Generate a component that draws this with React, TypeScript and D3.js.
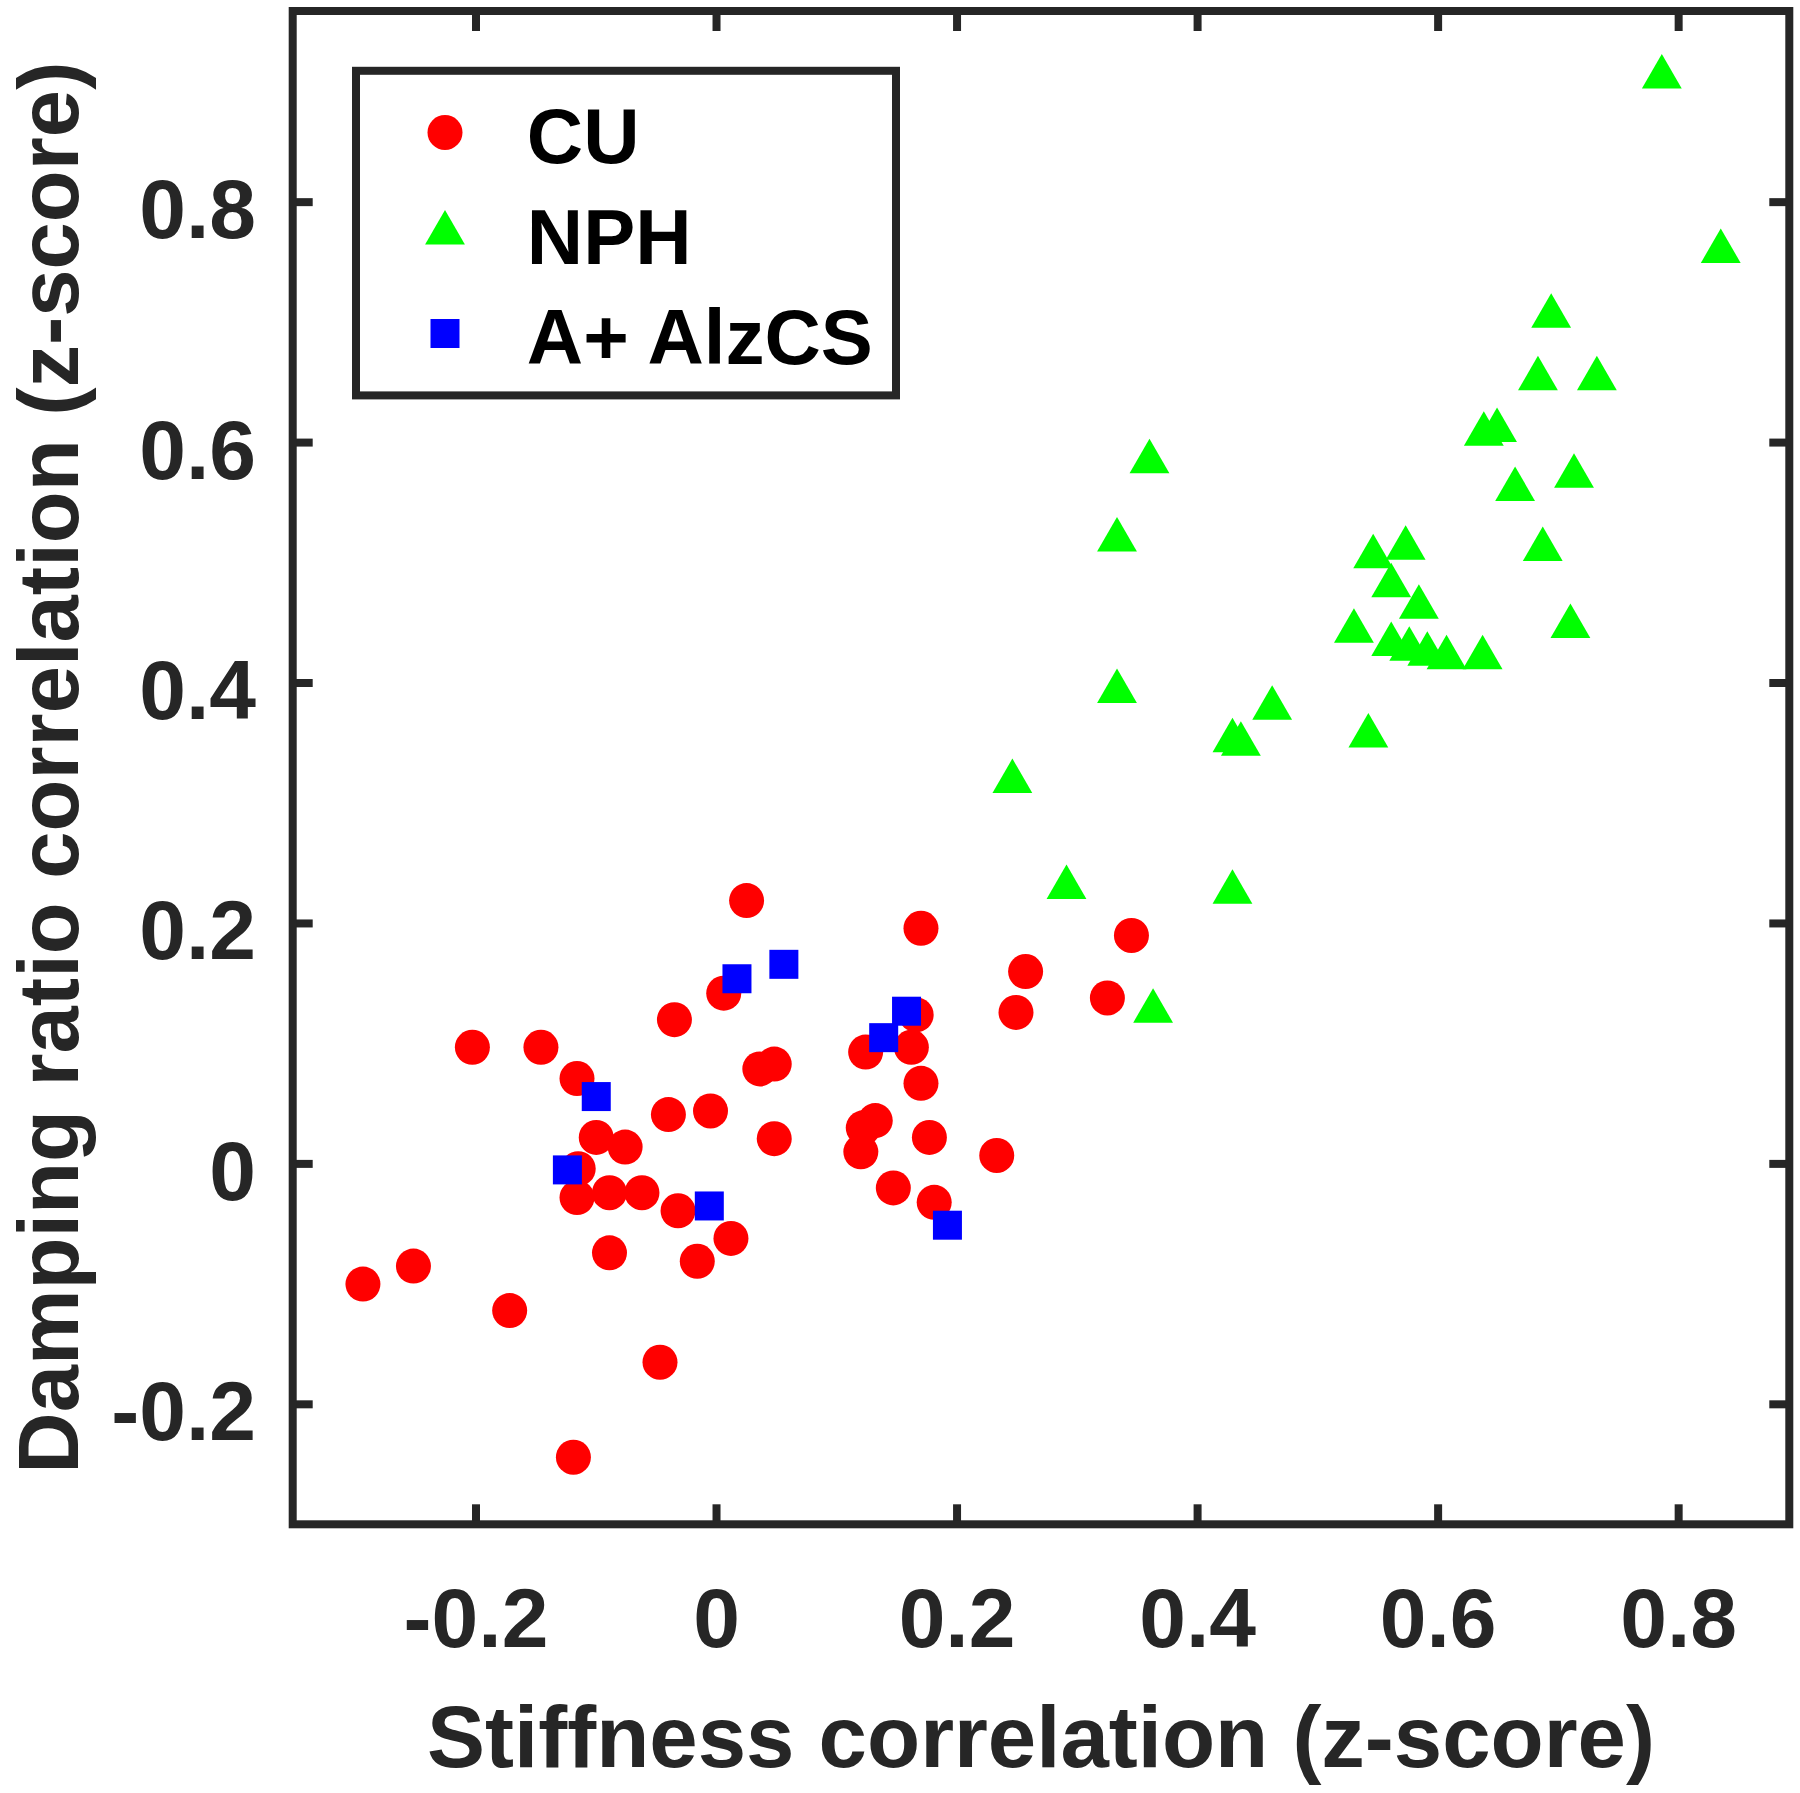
import React from 'react';
import * as d3 from 'd3';

// CU (red circles)
const cuX = [0.025, 0.170, 0.006, -0.035, -0.203, -0.146, -0.116, 0.036, 0.048, 0.124, 0.162, 0.166, 0.170, -0.040, -0.005, -0.100, -0.076, 0.048, 0.122, 0.132, 0.120, 0.177, 0.233, -0.115, -0.116, -0.089, -0.062, -0.032, 0.012, 0.147, 0.181, -0.089, -0.016, -0.252, -0.294, -0.172, -0.047, -0.119, 0.257, 0.249, 0.325, 0.345];
const cuY = [0.219, 0.196, 0.142, 0.120, 0.097, 0.097, 0.071, 0.079, 0.083, 0.093, 0.097, 0.124, 0.067, 0.041, 0.044, 0.022, 0.014, 0.021, 0.030, 0.036, 0.010, 0.022, 0.007, -0.004, -0.028, -0.024, -0.024, -0.039, -0.062, -0.020, -0.032, -0.074, -0.081, -0.085, -0.100, -0.122, -0.165, -0.244, 0.160, 0.126, 0.138, 0.190];

// NPH (green triangles)
const nphX = [0.786, 0.835, 0.694, 0.683, 0.732, 0.638, 0.649, 0.664, 0.713, 0.546, 0.573, 0.687, 0.561, 0.360, 0.333, 0.584, 0.530, 0.710, 0.561, 0.576, 0.591, 0.607, 0.637, 0.333, 0.462, 0.429, 0.436, 0.542, 0.246, 0.291, 0.429, 0.363];
const nphY = [0.904, 0.759, 0.705, 0.653, 0.653, 0.607, 0.610, 0.561, 0.572, 0.505, 0.512, 0.511, 0.481, 0.584, 0.519, 0.463, 0.443, 0.447, 0.432, 0.428, 0.424, 0.421, 0.421, 0.393, 0.379, 0.352, 0.349, 0.356, 0.318, 0.230, 0.226, 0.127];

// A+ AlzCS (blue squares)
const alzX = [0.017, 0.056, -0.100, -0.124, -0.006, 0.158, 0.139, 0.192];
const alzY = [0.154, 0.166, 0.056, -0.005, -0.035, 0.127, 0.105, -0.051];

const xTicks = [-0.2, 0, 0.2, 0.4, 0.6, 0.8];
const yTicks = [-0.2, 0, 0.2, 0.4, 0.6, 0.8];
const legendLabels = ['CU', 'NPH', 'A+ AlzCS'];
const xLabel = 'Stiffness correlation (z-score)';
const yLabel = 'Damping ratio correlation (z-score)';

const AX = '#262626';
const FONT = '"Liberation Sans", Arial, Helvetica, sans-serif';

function triPath(cx: number, cy: number, r: number) {
  const p = d3.path();
  p.moveTo(cx, cy - r);
  p.lineTo(cx + r * 0.866, cy + r / 2);
  p.lineTo(cx - r * 0.866, cy + r / 2);
  p.closePath();
  return p.toString();
}

export default function App() {
  const W = 1800, H = 1793;
  const left = 292.7, right = 1789.3, top = 11, bottom = 1524.3;
  const x = d3.scaleLinear().domain([-0.3524, 0.892]).range([left, right]);
  const y = d3.scaleLinear().domain([-0.2998, 0.959]).range([bottom, top]);
  const tickLen = 20;
  const cr = 17.5, tr = 23, sq = 29;

  const legendRows = [132.5, 233, 333.5];
  const legendMarkerX = 445;

  return (
    <svg width={W} height={H} style={{ position: 'absolute', left: 0, top: 0, background: '#fff' }} xmlns="http://www.w3.org/2000/svg">
      <rect x={0} y={0} width={W} height={H} fill="#fff" />
      {/* markers */}
      <g>
        {cuX.map((v, i) => (
          <circle key={'c' + i} cx={x(v)} cy={y(cuY[i])} r={cr} fill="#ff0000" />
        ))}
        {nphX.map((v, i) => (
          <path key={'t' + i} d={triPath(x(v), y(nphY[i]), tr)} fill="#00ff00" />
        ))}
        {alzX.map((v, i) => (
          <rect key={'s' + i} x={x(v) - sq / 2} y={y(alzY[i]) - sq / 2} width={sq} height={sq} fill="#0000ff" />
        ))}
      </g>
      {/* ticks */}
      <g stroke={AX} strokeWidth={8}>
        {xTicks.map((t) => (
          <g key={'xt' + t}>
            <line x1={x(t)} x2={x(t)} y1={bottom} y2={bottom - tickLen} />
            <line x1={x(t)} x2={x(t)} y1={top} y2={top + tickLen} />
          </g>
        ))}
        {yTicks.map((t) => (
          <g key={'yt' + t}>
            <line x1={left} x2={left + tickLen} y1={y(t)} y2={y(t)} />
            <line x1={right} x2={right - tickLen} y1={y(t)} y2={y(t)} />
          </g>
        ))}
      </g>
      {/* frame */}
      <rect x={left} y={top} width={right - left} height={bottom - top} fill="none" stroke={AX} strokeWidth={8} />
      {/* tick labels */}
      <g fontFamily={FONT} fontWeight="bold" fontSize={84} fill={AX}>
        {xTicks.map((t) => (
          <text key={'xl' + t} x={x(t)} y={1647} textAnchor="middle">{String(t)}</text>
        ))}
        {yTicks.map((t) => (
          <text key={'yl' + t} x={256} y={y(t) + 36} textAnchor="end">{String(t)}</text>
        ))}
      </g>
      {/* axis labels */}
      <text x={(left + right) / 2} y={1767} textAnchor="middle" fontFamily={FONT} fontWeight="bold" fontSize={87} fill={AX}>{xLabel}</text>
      <text transform={`translate(78, ${(top + bottom) / 2}) rotate(-90)`} textAnchor="middle" fontFamily={FONT} fontWeight="bold" fontSize={85} fill={AX}>{yLabel}</text>
      {/* legend */}
      <rect x={356} y={70.8} width={540} height={324.6} fill="#fff" stroke={AX} strokeWidth={8} />
      <circle cx={legendMarkerX} cy={legendRows[0]} r={cr} fill="#ff0000" />
      <path d={triPath(legendMarkerX, legendRows[1], tr)} fill="#00ff00" />
      <rect x={legendMarkerX - sq / 2} y={legendRows[2] - sq / 2} width={sq} height={sq} fill="#0000ff" />
      <g fontFamily={FONT} fontWeight="bold" fontSize={78} fill="#000">
        {legendLabels.map((l, i) => (
          <text key={l} x={526.8} y={legendRows[i] + 30.5}>{l}</text>
        ))}
      </g>
    </svg>
  );
}
